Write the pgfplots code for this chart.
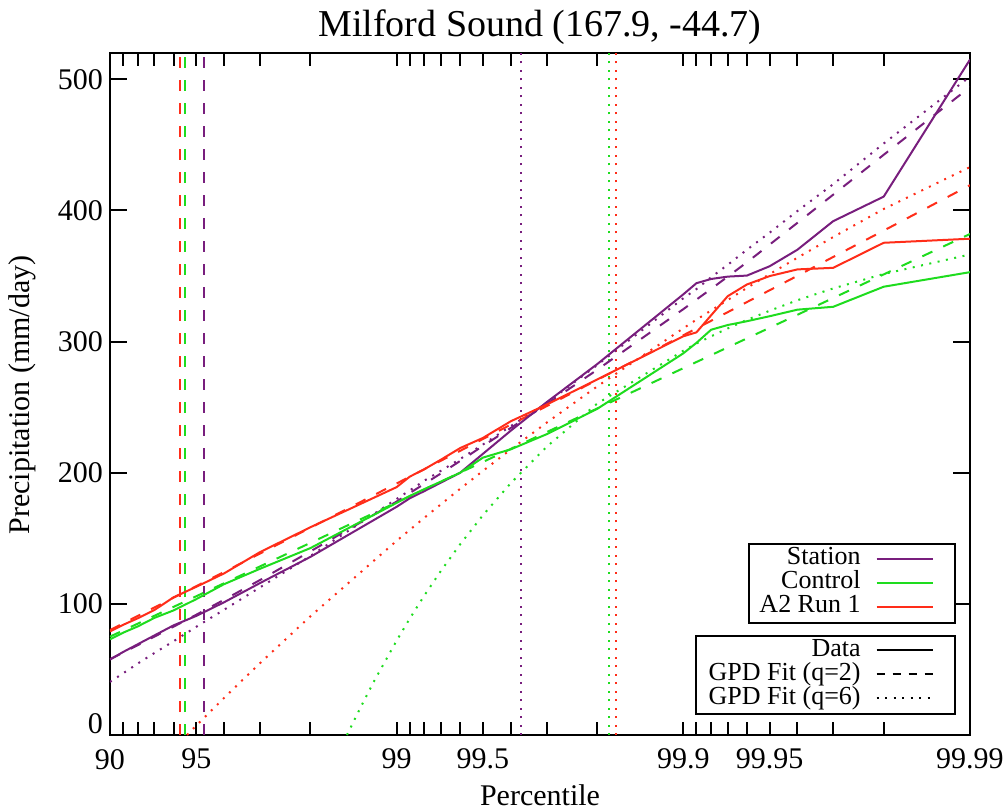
\documentclass[border=0pt]{standalone}
\usepackage{fontspec}
\setmainfont{Liberation Serif}
\usepackage{pgfplots}
\usepackage{pgfplotstable}
\pgfplotsset{compat=1.18}

\definecolor{stn}{RGB}{120,30,125}
\definecolor{ctl}{RGB}{30,220,30}
\definecolor{atwo}{RGB}{255,45,25}
\tikzset{
  qdash/.style={dash pattern=on 5.5pt off 6pt},
  qdot/.style={dash pattern=on 1pt off 3.25pt},
}

% x is -log10(1-p/100): 90 -> 1, 99 -> 2, 99.9 -> 3, 99.99 -> 4
\pgfplotstableread{
z      station control a2
1.0000 57.5  73.0  79.0
1.0458 63.3  78.0  84.0
1.0969 69.2  82.8  89.0
1.1549 75.9  89.3  95.3
1.2218 83.6  95.0  105.0
1.3010 90.8  103.6 113.0
1.3979 101.2 115.0 123.2
1.5229 115.8 126.7 139.4
1.6990 135.8 142.5 158.4
2.0000 174.0 177.0 189.0
2.0458 180.5 182.3 197.0
2.0969 186.0 187.5 202.7
2.1549 192.5 193.3 210.0
2.2218 200.0 200.0 218.8
2.3010 214.4 211.5 226.5
2.3979 232.0 217.8 239.2
2.5229 253.7 229.3 251.9
2.6990 282.7 248.6 271.0
3.0000 336.0 291.0 304.0
3.0458 344.5 299.0 307.0
3.0969 347.7 309.0 320.0
3.1549 349.5 312.6 334.6
3.2218 350.3 315.5 343.5
3.3010 357.4 319.3 349.9
3.3979 370.0 324.3 355.0
3.5229 391.8 326.5 356.2
3.6990 410.5 341.8 375.3
4.0000 515.0 352.9 378.4
}\obsdata

% GPD fit, q=2
\pgfplotstableread{
z      station control a2
1.0000 57.8  75.0  80.0
1.0458 62.8  79.7  85.1
1.0969 68.5  84.9  90.8
1.1549 75.0  90.9  97.2
1.2218 82.6  97.7  104.7
1.3010 91.7  105.8 113.5
1.3979 103.1 115.7 124.3
1.5229 118.1 128.5 138.3
1.6990 140.0 146.5 158.0
2.0000 178.0 177.4 191.8
2.0458 184.5 182.0 196.9
2.0969 191.5 187.3 202.7
2.1549 199.5 193.2 209.2
2.2218 209.0 200.1 216.7
2.3010 220.4 208.2 225.7
2.3979 234.1 218.1 236.6
2.5229 252.2 230.9 250.7
2.6990 278.4 248.9 270.7
3.0000 324.7 279.7 304.8
3.0458 332.0 284.4 310.0
3.0969 340.1 289.6 315.8
3.1549 349.5 295.6 322.4
3.2218 360.4 302.4 330.1
3.3010 373.9 310.5 339.1
3.3979 390.5 320.4 350.1
3.5229 412.0 333.2 364.5
3.6990 442.4 351.2 384.6
4.0000 494.0 382.0 419.2
}\fitqtwo

% GPD fit, q=6
\pgfplotstableread{
z      y
1.0000 40.5
1.0458 47.0
1.0969 54.5
1.1549 62.5
1.2218 71.5
1.3010 82.5
1.3979 95.5
1.5229 112.5
1.6990 136.5
2.0000 180.0
2.0458 186.5
2.0969 194.0
2.1549 201.5
2.2218 210.5
2.3010 221.5
2.3979 235.5
2.5229 253.0
2.6990 282.0
3.0000 333.0
3.0458 340.0
3.0969 349.0
3.1549 358.5
3.2218 370.0
3.3010 383.0
3.3979 399.5
3.5229 420.0
3.6990 451.0
4.0000 502.0
}\fitsixstn

\pgfplotstableread{
z      y
1.2686 0.0
1.3010 7.2
1.3979 28.3
1.5229 54.7
1.6990 90.5
2.0000 148.1
2.0458 156.4
2.0969 165.7
2.1549 176.0
2.2218 187.8
2.3010 201.4
2.3979 217.7
2.5229 238.1
2.6990 265.7
3.0000 310.1
3.0458 316.7
3.0969 323.7
3.1549 331.7
3.2218 340.9
3.3010 351.4
3.3979 363.9
3.5229 379.7
3.6990 401.1
4.0000 433.0
}\fitsixatwo

\pgfplotstableread{
z      y
1.8267 0.0
1.8721 20.2
1.9244 42.3
2.0000 72.0
2.0458 88.8
2.0969 106.5
2.1549 125.3
2.2218 145.5
2.3010 167.6
2.3979 192.0
2.5229 219.7
2.6990 252.6
3.0000 293.0
3.0458 298.5
3.0969 304.0
3.1549 310.0
3.2218 316.5
3.3010 323.5
3.3979 331.5
3.5229 340.5
3.6990 351.5
4.0000 366.4
}\fitsixctl

\begin{document}
\begin{tikzpicture}
\begin{axis}[
  scale only axis, width=430pt, height=341pt,
  xmin=1, xmax=4, ymin=0, ymax=520,
  axis line style={line width=1.25pt},
  every tick/.style={black, line width=1pt},
  tick align=inside,
  major tick length=6.5pt, minor tick length=4pt,
  xtick={1,1.0458,1.0969,1.1549,1.2218,1.3010,1.3979,1.5229,1.6990,
         2,2.0458,2.0969,2.1549,2.2218,2.3010,2.3979,2.5229,2.6990,
         3,3.0458,3.0969,3.1549,3.2218,3.3010,3.3979,3.5229,3.6990,4},
  xticklabels={90,,,,,95,,,,99,,,,,99.5,,,,99.9,,,,,99.95,,,,99.99},
  ytick=\empty,
  minor ytick={10,20,...,510},
  extra y ticks={0,100,200,300,400,500},
  extra y tick labels={,100,200,300,400,500},
  extra y tick style={major tick length=8.3pt},
  tick label style={font=\fontsize{15}{18}\selectfont},
  xticklabel style={yshift=-3.5pt},
  /pgf/number format/assume math mode=true,
]
% thresholds
\addplot[atwo, line width=1pt, qdash] coordinates {(1.2442,0) (1.2442,520)};
\addplot[ctl, line width=1pt, qdash] coordinates {(1.2627,0) (1.2627,520)};
\addplot[stn, line width=1pt, qdash] coordinates {(1.3290,0) (1.3290,520)};
\addplot[stn, line width=1pt, qdot] coordinates {(2.4337,0) (2.4337,520)};
\addplot[ctl, line width=1pt, qdot] coordinates {(2.7417,0) (2.7417,520)};
\addplot[atwo, line width=1pt, qdot] coordinates {(2.7640,0) (2.7640,520)};

% fits
\addplot[stn, line width=1pt, qdot] table[x=z, y=y] {\fitsixstn};
\addplot[atwo, line width=1pt, qdot] table[x=z, y=y] {\fitsixatwo};
\addplot[ctl, line width=1pt, qdot] table[x=z, y=y] {\fitsixctl};
\addplot[stn, line width=1pt, qdash] table[x=z, y=station] {\fitqtwo};
\addplot[ctl, line width=1pt, qdash] table[x=z, y=control] {\fitqtwo};
\addplot[atwo, line width=1pt, qdash] table[x=z, y=a2] {\fitqtwo};

% data
\addplot[stn, line width=1pt] table[x=z, y=station] {\obsdata};
\addplot[ctl, line width=1pt] table[x=z, y=control] {\obsdata};
\addplot[atwo, line width=1pt] table[x=z, y=a2] {\obsdata};
\end{axis}

% zero label sits a little above its tick
\node[anchor=east, font=\fontsize{15}{18}\selectfont] at (0pt,5.75pt) {0};

\node[anchor=base, font=\fontsize{19}{23}\selectfont] at (215pt,349pt) {Milford Sound (167.9, -44.7)};
\node[anchor=base, font=\fontsize{15}{18}\selectfont] at (215pt,-35pt) {Percentile};
\node[rotate=90, font=\fontsize{15}{18}\selectfont] at (-44pt,170pt) {Precipitation (mm/day)};

% legends
\begin{scope}[font=\rmfamily\fontsize{13}{15}\selectfont]
\draw[line width=1pt, fill=white] (319.7pt,55.85pt) rectangle (422.5pt,95.5pt);
\node[anchor=base east, inner sep=0pt] at (375.5pt,85.2pt) {Station};
\node[anchor=base east, inner sep=0pt] at (375.5pt,73.2pt) {Control};
\node[anchor=base east, inner sep=0pt] at (375.5pt,61.2pt) {A2 Run 1};
\draw[stn, line width=1pt] (383.35pt,88.2pt) -- (411.65pt,88.2pt);
\draw[ctl, line width=1pt] (383.35pt,76.2pt) -- (411.65pt,76.2pt);
\draw[atwo, line width=1pt] (383.35pt,64.2pt) -- (411.65pt,64.2pt);

\draw[line width=1pt, fill=white] (293pt,10.35pt) rectangle (422.5pt,49.5pt);
\node[anchor=base east, inner sep=0pt] at (375.5pt,39.4pt) {Data};
\node[anchor=base east, inner sep=0pt] at (375.5pt,27.4pt) {GPD Fit (q=2)};
\node[anchor=base east, inner sep=0pt] at (375.5pt,15.4pt) {GPD Fit (q=6)};
\draw[line width=1pt] (383.35pt,42.4pt) -- (411.65pt,42.4pt);
\draw[line width=1pt, dash pattern=on 4pt off 4pt] (383.35pt,30.4pt) -- (411.65pt,30.4pt);
\draw[line width=1pt, qdot] (383.35pt,18.4pt) -- (411.65pt,18.4pt);
\end{scope}

\pgfresetboundingbox
\path[use as bounding box] (-55pt,-37pt) rectangle (448.5pt,367.5pt);
\end{tikzpicture}
\end{document}
